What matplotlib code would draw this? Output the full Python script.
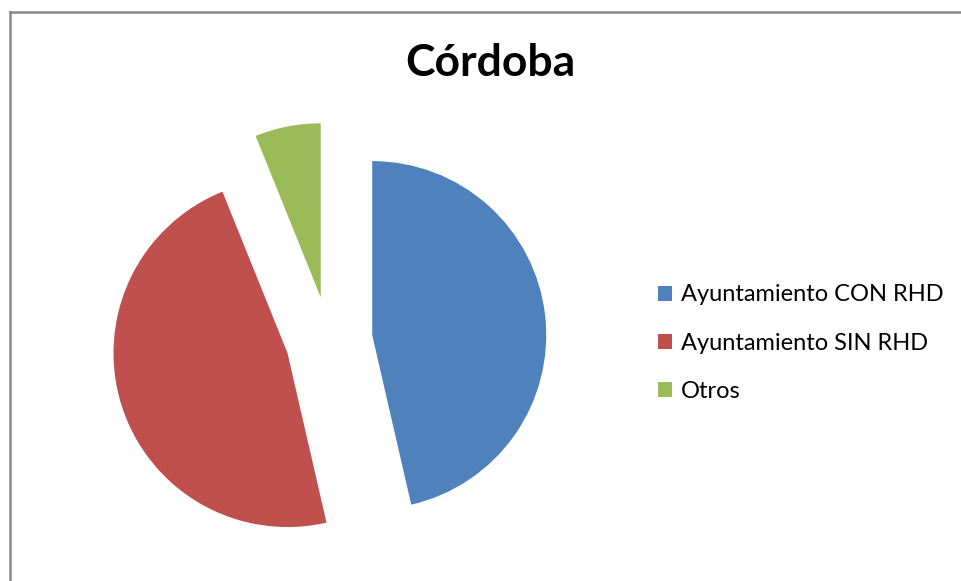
import matplotlib.pyplot as plt
from matplotlib.lines import Line2D

# Datos del gráfico (porcentajes)
categorias = ['Ayuntamiento CON RHD', 'Ayuntamiento SIN RHD', 'Otros']
valores = [46.4, 47.5, 6.1]
colores = ['#4F81BD', '#C0504D', '#9BBB59']

W, H = 962, 581
fig = plt.figure(figsize=(W / 100, H / 100), dpi=100)

# Escala: 1 unidad = radio del pastel en píxeles
R = 174.0
cx, cy = 329.0, H - 340.0
ax = fig.add_axes([0, 0, 1, 1])
wedges, _ = ax.pie(valores, colors=colores, startangle=90, counterclock=False,
                   explode=[0.25, 0.25, 0.25], radius=1.0,
                   wedgeprops={'linewidth': 0})
ax.set_xlim(-cx / R, (W - cx) / R)
ax.set_ylim(-cy / R, (H - cy) / R)
ax.set_aspect('auto')
ax.axis('off')

# Título
fig.text(490 / W, 1 - 63 / H, 'Córdoba', ha='center', va='center',
         fontsize=32, fontweight='bold', family='Lato')

# Leyenda
fig.legend(wedges, categorias, loc='center left', bbox_to_anchor=(637 / W, 1 - 343 / H),
           frameon=False, prop={'family': 'Lato', 'size': 17},
           handlelength=0.6, handleheight=0.6, handletextpad=0.35,
           labelspacing=1.15)

# Borde del área del gráfico
borde = '#888888'
fig.add_artist(Line2D([9.5 / W, 9.5 / W], [0, 1 - 11.5 / H], color=borde, lw=1.8))
fig.add_artist(Line2D([9.5 / W, 1], [1 - 11.5 / H, 1 - 11.5 / H], color=borde, lw=1.8))

fig.savefig('out.png', dpi=100)
